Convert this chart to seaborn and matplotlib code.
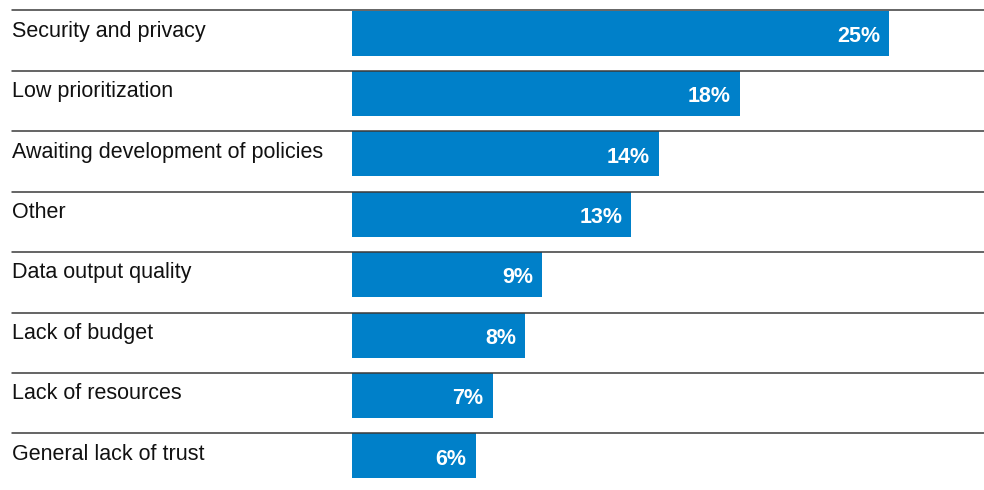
import matplotlib
matplotlib.use("Agg")
import matplotlib.pyplot as plt
import seaborn as sns
import pandas as pd

categories = ["Security and privacy", "Low prioritization", "Awaiting development of policies",
              "Other", "Data output quality", "Lack of budget", "Lack of resources",
              "General lack of trust"]
values = [25.0, 18.05, 14.3, 13.0, 8.85, 8.05, 6.55, 5.75]
value_labels = ["25%", "18%", "14%", "13%", "9%", "8%", "7%", "6%"]

df = pd.DataFrame({"category": categories, "value": values})

sns.set_theme(style="white")
plt.rcParams["font.family"] = ["Liberation Sans", "DejaVu Sans"]

W, H = 984, 490
fig = plt.figure(figsize=(W / 100, H / 100), dpi=100)
pitch = 60.4
bar_h = 45 / pitch
top_px = 10.5
x0_px = 352
px_per_unit = 537 / 25.0
ax_w_px = W - x0_px
ax_h_px = (len(categories) - 1 + bar_h) * pitch
ax = fig.add_axes([x0_px / W, (H - top_px - ax_h_px) / H, ax_w_px / W, ax_h_px / H])

sns.barplot(data=df, y="category", x="value", orient="h", color="#0080C9",
            saturation=1, width=bar_h, linewidth=0, ax=ax)
ax.set_xlim(0, ax_w_px / px_per_unit)
ax.set_ylim(len(categories) - 1 + bar_h / 2, -bar_h / 2)
ax.axis("off")

label_x = (12 - x0_px) / px_per_unit
line_xmin = (12 - x0_px) / ax_w_px
for i, (cat, v, lab) in enumerate(zip(categories, values, value_labels)):
    top = i - bar_h / 2
    ax.axhline(top, xmin=line_xmin, xmax=1, color="#3a3a3a", lw=1.1,
               clip_on=False, zorder=3)
    ax.text(label_x, top + 26.3 / pitch, cat, ha="left", va="baseline",
            fontsize=15.5, color="#111111", clip_on=False)
    ax.text(v - 9 / px_per_unit, top + 31.3 / pitch, lab, ha="right", va="baseline",
            fontsize=15.5, fontweight="bold", color="white")

fig.savefig("out.png", dpi=100)
